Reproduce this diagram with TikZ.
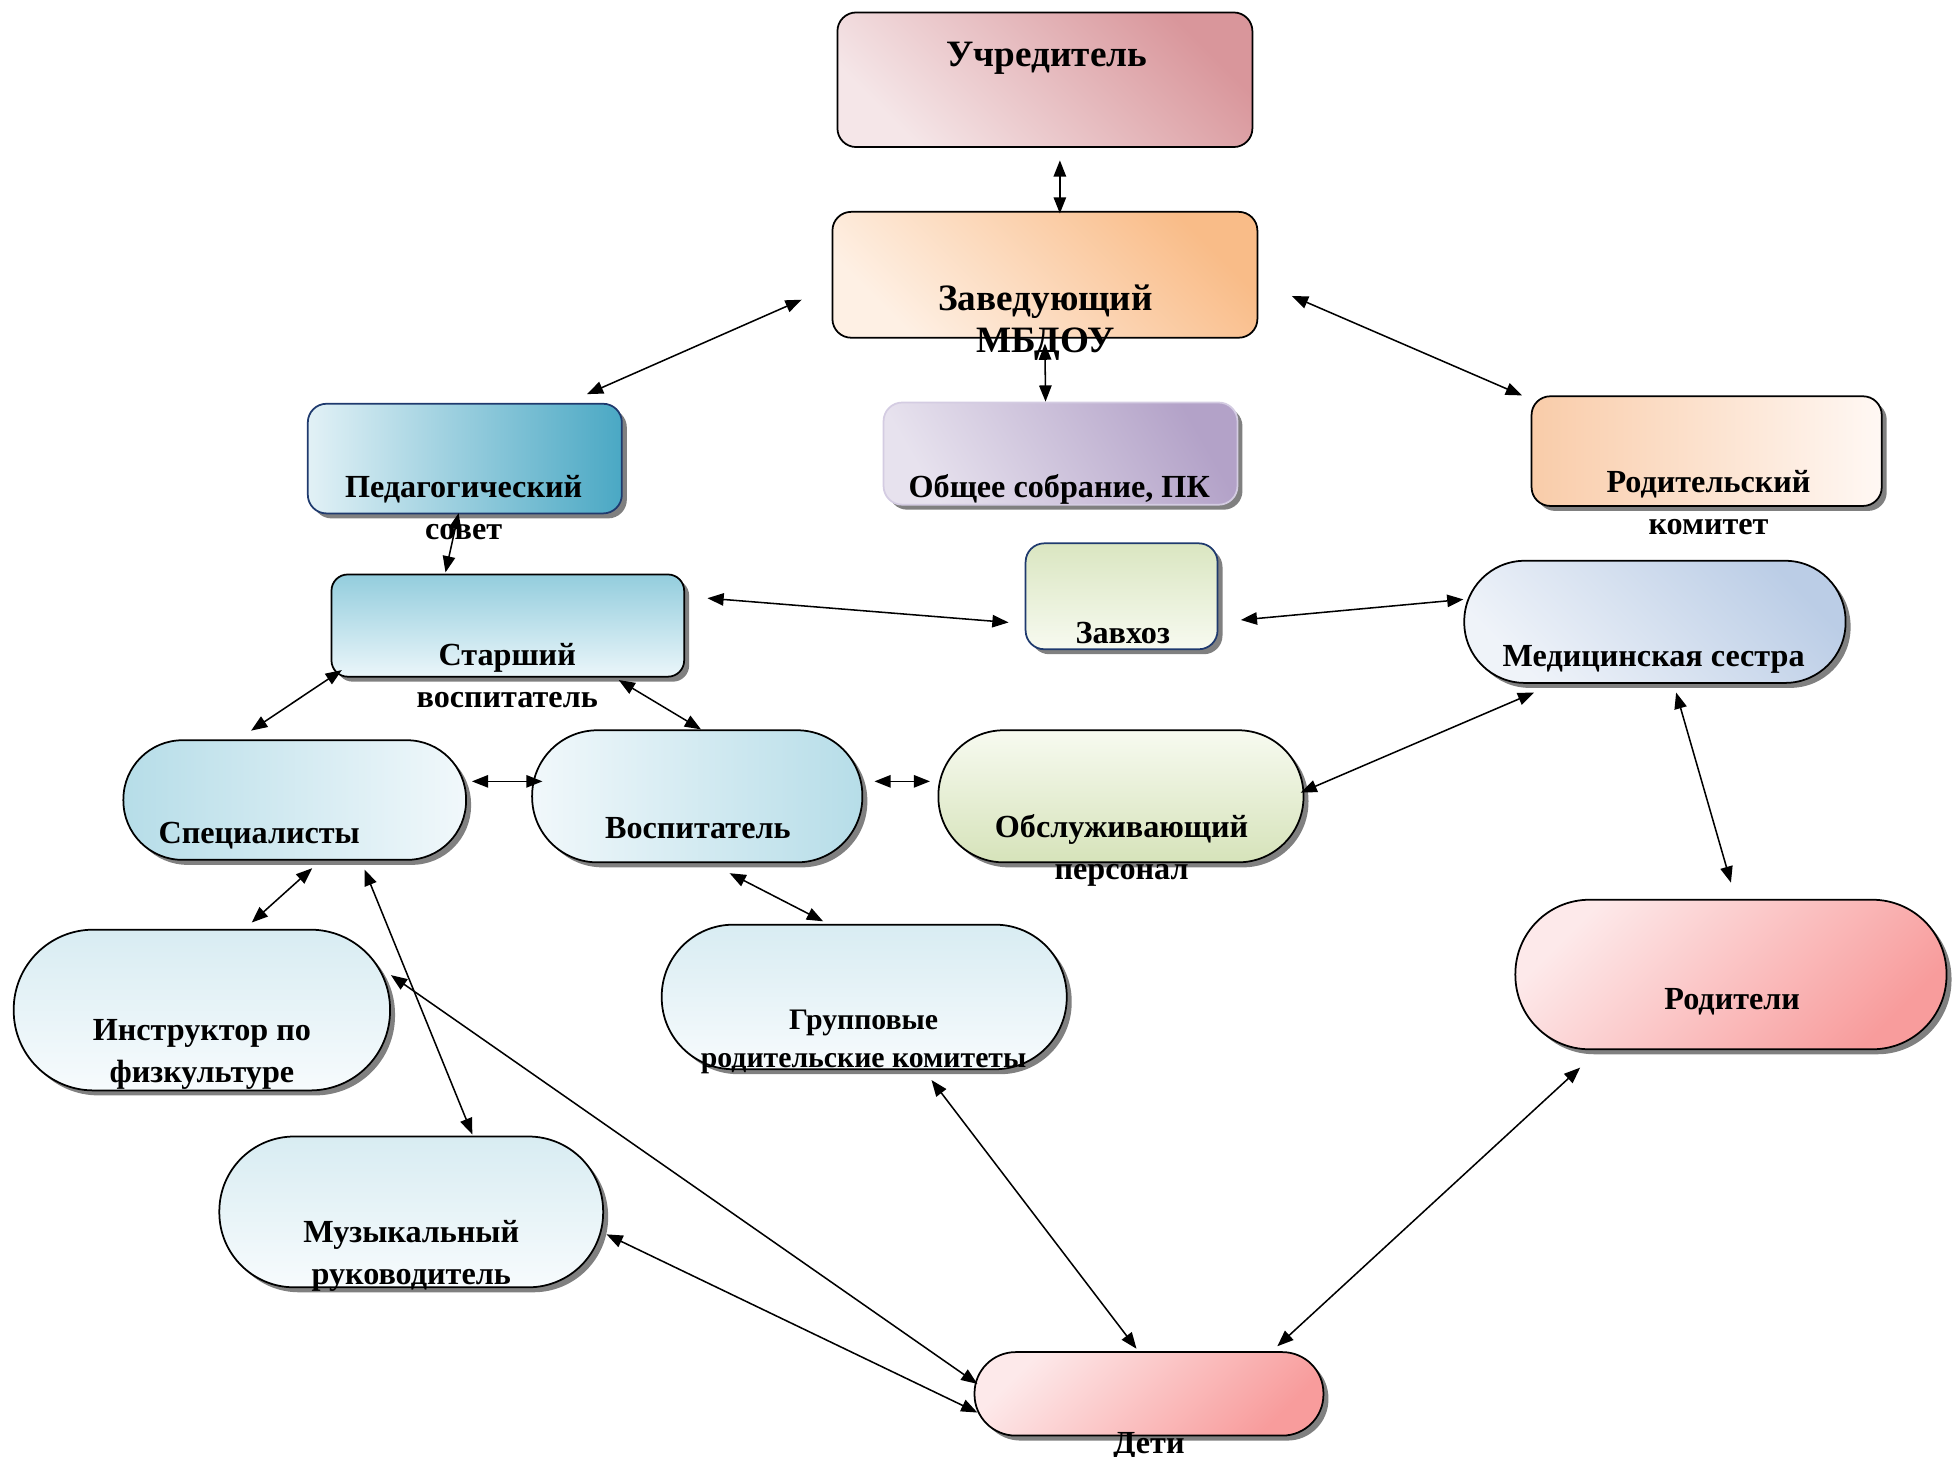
\documentclass[tikz,border=0pt]{standalone}
\usepackage{fontspec}
\setmainfont{Liberation Serif}
\usetikzlibrary{arrows.meta}
\usetikzlibrary{calc}
\usetikzlibrary{fit}
\usetikzlibrary{shadows}
\definecolor{uchLight}{HTML}{F5E6E8}
\definecolor{uchDark}{HTML}{D9969B}
\definecolor{zavLight}{HTML}{FEF0E4}
\definecolor{zavDark}{HTML}{F9BC88}
\definecolor{tealLight}{HTML}{E2F1F6}
\definecolor{tealDark}{HTML}{4AA8C4}
\definecolor{lilacLight}{HTML}{E7E2EE}
\definecolor{lilacDark}{HTML}{B3A2C8}
\definecolor{lilacEdge}{HTML}{D4CCE2}
\definecolor{peach}{HTML}{F9CCA9}
\definecolor{peachWhite}{HTML}{FFF8F4}
\definecolor{greenLight}{HTML}{F7FAF0}
\definecolor{greenDark}{HTML}{D6E3BA}
\definecolor{blueTop}{HTML}{93CDDD}
\definecolor{blueBottom}{HTML}{EBF6FA}
\definecolor{skyDark}{HTML}{B6DDE8}
\definecolor{skyLight}{HTML}{F1F8FB}
\definecolor{paleTop}{HTML}{D8ECF2}
\definecolor{paleBottom}{HTML}{F7FBFD}
\definecolor{medDark}{HTML}{BBCDE6}
\definecolor{medLight}{HTML}{EFF3F9}
\definecolor{pinkLight}{HTML}{FDE9EA}
\definecolor{pinkDark}{HTML}{F89C9C}
\definecolor{navy}{HTML}{1F3A6E}
\tikzstyle{block} = [draw=black,line width=0.8pt,inner sep=0pt]
\tikzstyle{boxed} = [block,rounded corners=0.3cm]
\tikzstyle{withshadow} = [drop shadow={shadow xshift=0.08cm,shadow yshift=-0.08cm,fill=black!50,opacity=1}]
\tikzstyle{lbl} = [font=\fontsize{14.7}{19.3}\selectfont\bfseries,align=center,inner sep=0pt,anchor=base]
\tikzstyle{biglbl} = [lbl,font=\fontsize{17}{19.3}\selectfont\bfseries]
\tikzstyle{smalllbl} = [lbl,font=\fontsize{13.6}{17.6}\selectfont\bfseries]
\tikzstyle{relation} = [<->,line width=0.7pt]

\begin{document}
\begin{tikzpicture}[x=0.02cm, y=-0.02cm, >={Triangle[length=0.26cm,width=0.2cm]}]
    \useasboundingbox (0,0) rectangle (1568,1169);

    % boxes, placed at the corners they span
    \node[boxed, top color=uchDark, bottom color=uchLight, shading angle=-45,
          fit={(672,10) (1005,118)}] (uch) {};
    \node[boxed, top color=zavDark, bottom color=zavLight, shading angle=-45,
          fit={(668,170) (1009,271)}] (zav) {};
    \node[boxed, withshadow, draw=navy, left color=tealLight, right color=tealDark,
          fit={(247,324) (499,412)}] (ped) {};
    \node[boxed, withshadow, draw=lilacEdge, top color=lilacDark, bottom color=lilacLight,
          shading angle=-60, fit={(709,323) (993,405)}] (obsh) {};
    \node[boxed, withshadow, left color=peach, right color=peachWhite,
          fit={(1229,318) (1510,406)}] (rodkom) {};
    \node[boxed, withshadow, draw=navy, top color=greenDark!90, bottom color=greenLight,
          fit={(823,436) (977,521)}] (zavh) {};
    \node[boxed, withshadow, rounded corners=0.26cm, top color=blueTop, bottom color=blueBottom,
          fit={(266,461) (549,543)}] (star) {};
    \node[block, withshadow, rounded corners=0.97cm, top color=medDark, bottom color=medLight,
          shading angle=-45, fit={(1175,450) (1481,548)}] (med) {};
    \node[block, withshadow, rounded corners=0.95cm, left color=skyDark, right color=skyLight,
          fit={(99,594) (374,690)}] (spec) {};
    \node[block, withshadow, rounded corners=1.05cm, left color=skyLight, right color=skyDark,
          fit={(427,586) (692,692)}] (vosp) {};
    \node[block, withshadow, rounded corners=1.05cm, top color=greenLight, bottom color=greenDark,
          fit={(753,586) (1046,692)}] (obsl) {};
    \node[block, withshadow, rounded corners=1.28cm, top color=paleTop, bottom color=paleBottom,
          fit={(11,746) (313,875)}] (instr) {};
    \node[block, withshadow, rounded corners=1.15cm, top color=paleTop, bottom color=paleBottom,
          fit={(531,742) (856,858)}] (grup) {};
    \node[block, withshadow, rounded corners=1.19cm, top color=pinkLight, bottom color=pinkDark,
          shading angle=45, fit={(1216,722) (1562,842)}] (rodit) {};
    \node[block, withshadow, rounded corners=1.2cm, top color=paleTop, bottom color=paleBottom,
          fit={(176,912) (484,1033)}] (muz) {};
    \node[block, withshadow, rounded corners=0.66cm, top color=pinkLight, bottom color=pinkDark,
          shading angle=45, fit={(782,1085) (1062,1152)}] (deti) {};

    % texts, set on the baseline of their last line
    \node[biglbl] (uch-t) at (840,53) {Учредитель};
    \node[biglbl] (zav-t) at (839,283) {Заведующий\\МБДОУ};
    \node[lbl] (ped-t) at (372,433) {Педагогический\\совет};
    \node[lbl] (obsh-t) at (850,399) {Общее собрание, ПК};
    \node[lbl] (rodkom-t) at (1371,429) {Родительский\\комитет};
    \node[lbl] (zavh-t) at (901,516) {Завхоз};
    \node[lbl] (star-t) at (407,568) {Старший\\воспитатель};
    \node[lbl] (med-t) at (1327,535) {Медицинская сестра};
    \node[lbl] (spec-t) at (208,677) {Специалисты};
    \node[lbl] (vosp-t) at (560,673) {Воспитатель};
    \node[lbl] (obsl-t) at (900,706) {Обслуживающий\\персонал};
    \node[lbl] (instr-t) at (162,869) {Инструктор по\\физкультуре};
    \node[smalllbl] (grup-t) at (693,857) {Групповые\\родительские комитеты};
    \node[lbl] (rodit-t) at (1390,810) {Родители};
    \node[lbl] (muz-t) at (330,1031) {Музыкальный\\руководитель};
    \node[lbl] (deti-t) at (922,1166) {Дети};

    % now link the boxes
    \draw [relation] ($(uch.south)+(12,10)$) -- ($(zav.north)+(12,2)$);
    \draw [relation] ($(zav.south)+(0,4)$) -- ($(obsh.north)+(-12,0)$);
    \draw [relation] ($(zav.west)+(-24,20)$) -- ($(ped.north)+(98,-7)$);
    \draw [relation] ($(zav.east)+(27,17)$) -- ($(rodkom.north west)+(-7,0)$);
    \draw [relation] ($(ped.south)+(-5,-1)$) -- ($(star.north)+(-50,-1)$);
    \draw [relation] ($(star.east)+(18,-22)$) -- ($(zavh.west)+(-13,21)$);
    \draw [relation] ($(zavh.east)+(18,19)$) -- ($(med.west)+(0,-18)$);
    \draw [relation] ($(star.south west)+(9,-6)$) -- ($(spec.north)+(-35,-7)$);
    \draw [relation] ($(star.south)+(89,2)$) -- ($(vosp.north)+(3,0)$);
    \draw [relation] ($(spec.east)+(4,-15)$) -- ($(vosp.west)+(9,-12)$);
    \draw [relation] ($(vosp.east)+(9,-12)$) -- ($(obsl.west)+(-6,-12)$);
    \draw [relation] ($(obsl.east)+(-3,-3)$) -- ($(med.south)+(-97,7)$);
    \draw [relation] ($(med.south)+(17,7)$) -- ($(rodit.north)+(0,-13)$);
    \draw [relation] ($(spec.south)+(14,6)$) -- ($(instr.north)+(40,-5)$);
    \draw [relation] ($(spec.south)+(56,7)$) -- ($(muz.north)+(49,-1)$);
    \draw [relation] ($(vosp.south)+(26,8)$) -- ($(grup.north)+(-33,-2)$);
    \draw [relation] ($(instr.east)+(0,-28)$) -- ($(deti.west)+(3,-8)$);
    \draw [relation] ($(muz.east)+(2,18)$) -- ($(deti.west)+(3,15)$);
    \draw [relation] ($(grup.south)+(54,8)$) -- ($(deti.north)+(-10,-2)$);
    \draw [relation] ($(rodit.south)+(-121,14)$) -- ($(deti.north)+(103,-4)$);

\end{tikzpicture}
\end{document}
